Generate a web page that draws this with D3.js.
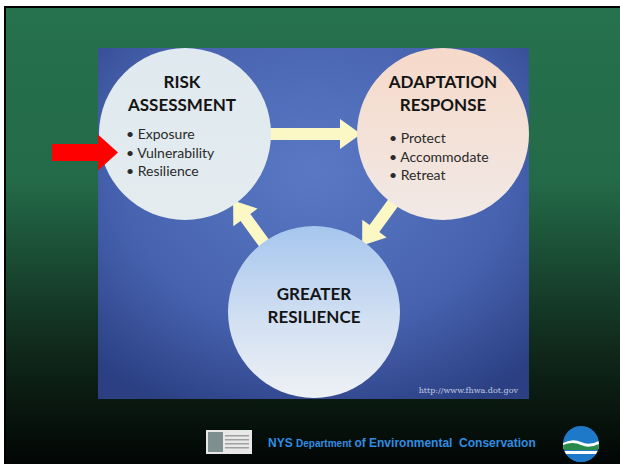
<!DOCTYPE html>
<html><head><meta charset="utf-8">
<script src="https://cdn.jsdelivr.net/npm/d3@7"></script>
<style>html,body{margin:0;padding:0;background:#fff;}svg{display:block;}</style>
</head><body>
<svg id="c" width="620" height="465"></svg>
<script>
// ---- data ----
const nodeNames = ["RISK ASSESSMENT", "ADAPTATION RESPONSE", "GREATER RESILIENCE"];
const nodeTitleLines = [["RISK", "ASSESSMENT"], ["ADAPTATION", "RESPONSE"], ["GREATER", "RESILIENCE"]];
const nodeBullets = [["Exposure", "Vulnerability", "Resilience"], ["Protect", "Accommodate", "Retreat"], []];
const nodeCols = [0, 2, 1];   // grid column
const nodeRows = [0, 0, 1];   // grid row
const cycleLinks = [[0, 1], [1, 2], [2, 0]];
const highlightedBullet = [0, 1]; // node 0, bullet 1 -> red arrow
const sourceText = "http://www.fhwa.dot.gov";
const footerParts = [["NYS ", 12], ["Department ", 10], ["of Environmental  Conservation", 12]];

const svg = d3.select("#c");
const defs = svg.append("defs");

// slide background
const bg = defs.append("linearGradient").attr("id","slideBg").attr("x1",0).attr("y1",0).attr("x2",0).attr("y2",1);
bg.append("stop").attr("offset","0").attr("stop-color","#26714e");
bg.append("stop").attr("offset","0.38").attr("stop-color","#236a48");
bg.append("stop").attr("offset","0.75").attr("stop-color","#10281b");
bg.append("stop").attr("offset","1").attr("stop-color","#020604");
svg.append("rect").attr("x",4).attr("y",6).attr("width",616).attr("height",458).attr("fill","#000");
svg.append("rect").attr("x",6).attr("y",8).attr("width",614).attr("height",456).attr("fill","url(#slideBg)");

// picture panel
const panel = {x:98, y:48, w:431, h:351};
const pg = defs.append("radialGradient").attr("id","panelBg").attr("cx","0.5").attr("cy","0.35").attr("r","0.75");
pg.append("stop").attr("offset","0").attr("stop-color","#5a78c4");
pg.append("stop").attr("offset","0.6").attr("stop-color","#4763b0");
pg.append("stop").attr("offset","1").attr("stop-color","#2b3f82");
defs.append("clipPath").attr("id","panelClip").append("rect")
  .attr("x",panel.x).attr("y",panel.y).attr("width",panel.w).attr("height",panel.h);
svg.append("rect").attr("x",panel.x).attr("y",panel.y).attr("width",panel.w).attr("height",panel.h).attr("fill","url(#panelBg)");
const g = svg.append("g").attr("clip-path","url(#panelClip)");

// scales
const xs = d3.scaleLinear().domain([0,2]).range([185, 443]);
const ys = d3.scaleLinear().domain([0,1]).range([134, 312]);
const rScale = d3.scaleLinear().domain([0,1]).range([0, 86]);
const R = rScale(1);

const fills = [
  [["0","#dfe9ef"],["1","#e4ecef"]],
  [["0","#f6d9c9"],["1","#f1e9e6"]],
  [["0","#a6c6ee"],["0.55","#d2e0f2"],["1","#eef1f5"]]
];
fills.forEach((st,i)=>{
  const lg = defs.append("linearGradient").attr("id","nf"+i).attr("x1",0).attr("y1",0).attr("x2",0).attr("y2",1);
  st.forEach(s=>lg.append("stop").attr("offset",s[0]).attr("stop-color",s[1]));
});

const nodes = nodeNames.map((n,i)=>({name:n, x:xs(nodeCols[i]), y:ys(nodeRows[i]), i}));

// arrows
const arrowColor = "#fbf8c6";
function arrowPath(len, shaftW, headW, headL){
  const s = shaftW/2, h = headW/2;
  return `M0,${-s}L${len-headL},${-s}L${len-headL},${-h}L${len},0L${len-headL},${h}L${len-headL},${s}L0,${s}Z`;
}
cycleLinks.forEach(([a,b])=>{
  const A = nodes[a], B = nodes[b];
  const dx = B.x-A.x, dy = B.y-A.y, d = Math.hypot(dx,dy);
  const ux = dx/d, uy = dy/d;
  const sx = A.x + ux*(R-8), sy = A.y + uy*(R-8);
  const len = d - 2*R + 12;
  const ang = Math.atan2(dy,dx)*180/Math.PI;
  g.append("path").attr("d", arrowPath(len, 12, 30, 21))
    .attr("transform",`translate(${sx},${sy}) rotate(${ang})`)
    .attr("fill",arrowColor);
});

// circles
g.selectAll("circle.node").data(nodes).enter().append("circle")
  .attr("class","node").attr("cx",d=>d.x).attr("cy",d=>d.y).attr("r",R)
  .attr("fill",d=>`url(#nf${d.i})`);

// titles
const titleFont = "Lato, 'Open Sans', sans-serif";
nodes.forEach(n=>{
  const lines = nodeTitleLines[n.i];
  const base = n.i===2 ? n.y-12 : n.y-46;
  lines.forEach((t,k)=>{
    svg.append("text").attr("x", n.x - (n.i===0?3:0)).attr("y", base + k*23)
      .attr("text-anchor","middle").attr("font-family",titleFont).attr("font-weight","bold")
      .attr("font-size",17).attr("fill","#141414").text(t);
  });
  const bl = nodeBullets[n.i];
  const bx = n.i===0 ? 126 : 389;
  const by = n.i===0 ? n.y+5 : n.y+9;
  bl.forEach((t,k)=>{
    svg.append("text").attr("x",bx).attr("y",by + k*18.5)
      .attr("font-family",titleFont).attr("font-size",14).attr("fill","#2a2a2a")
      .text("\u2022 " + t);
  });
});

// red highlight arrow
{
  const n = nodes[highlightedBullet[0]];
  const yA = n.y + 5 + highlightedBullet[1]*18.5 - 5;
  svg.append("path").attr("d", arrowPath(66, 17, 36, 20))
    .attr("transform",`translate(52,${yA})`).attr("fill","#ff0000");
}

// source text
svg.append("text").attr("x",518).attr("y",393).attr("text-anchor","end")
  .attr("font-family","'DejaVu Serif', 'Liberation Serif', serif").attr("font-size",8)
  .attr("fill","#c3cbe4").text(sourceText);

// footer
const ft = svg.append("text").attr("x",268).attr("y",447)
  .attr("font-family","'Liberation Sans', Arial, sans-serif").attr("font-weight","bold").attr("fill","#2f8ee3")
  .attr("style","white-space:pre");
footerParts.forEach(p=>ft.append("tspan").attr("font-size",p[1]).text(p[0]));

// left logo
const lg2 = svg.append("g").attr("transform","translate(206,430)");
lg2.append("rect").attr("width",46).attr("height",24).attr("fill","#e8e8e8");
lg2.append("rect").attr("x",2).attr("y",2).attr("width",15).attr("height",20).attr("fill","#7f8f90");
[5,9,13,17].forEach(yy=>lg2.append("rect").attr("x",19).attr("y",yy).attr("width",24).attr("height",1.5).attr("fill","#a0a0a0"));

// right logo
const cx = 581, cy = 444, rr = 18;
defs.append("clipPath").attr("id","logoClip").append("circle").attr("cx",cx).attr("cy",cy).attr("r",rr);
const lg3 = svg.append("g").attr("clip-path","url(#logoClip)");
lg3.append("rect").attr("x",cx-rr).attr("y",cy-rr).attr("width",2*rr).attr("height",2*rr).attr("fill","#1f79c9");
lg3.append("path").attr("d",`M${cx-rr},${cy-1} Q${cx-8},${cy-6} ${cx},${cy-2} T${cx+rr},${cy-3} L${cx+rr},${cy+5} L${cx-rr},${cy+5}Z`).attr("fill","#fff");
lg3.append("path").attr("d",`M${cx-rr},${cy+1} Q${cx-8},${cy-3} ${cx},${cy+1} T${cx+rr},${cy} L${cx+rr},${cy+6} L${cx-rr},${cy+6}Z`).attr("fill","#2a8a4a");
lg3.append("rect").attr("x",cx-rr).attr("y",cy+7).attr("width",2*rr).attr("height",3).attr("fill","#fff");
lg3.append("rect").attr("x",cx-rr).attr("y",cy+10).attr("width",2*rr).attr("height",10).attr("fill","#1f79c9");
</script>
</body></html>
